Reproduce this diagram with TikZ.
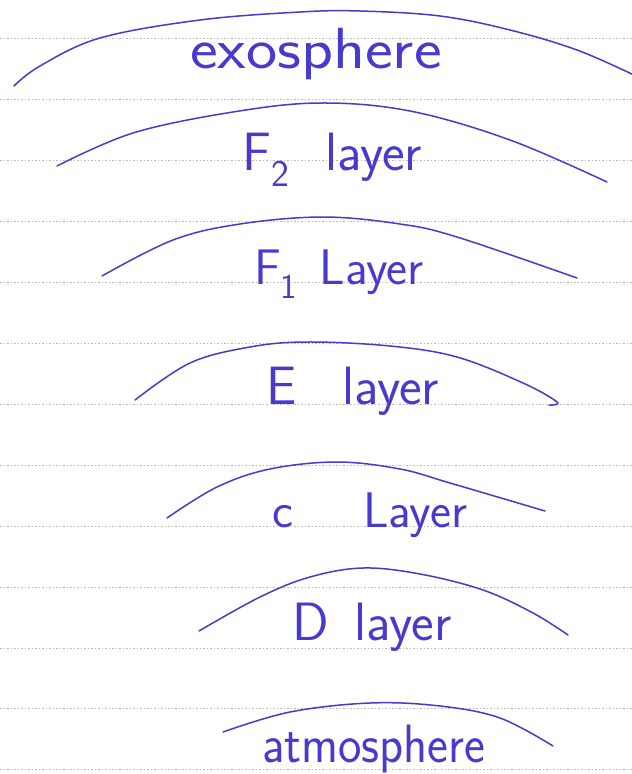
\documentclass[tikz,border=0pt]{standalone}
\usepackage{fontspec}
\begin{document}
\begin{tikzpicture}[x=1pt,y=-1pt,
  ink/.style={draw=inkblue,line width=1.5pt,line cap=round,line join=round},
  rule/.style={draw=rulegray,line width=0.7pt,dash pattern=on 1.5pt off 2pt},
  lbl/.style={text=inkblue,inner sep=0pt,anchor=base west},
  fs/.style={font=\sffamily\fontsize{#1}{#1}\selectfont}]
\definecolor{inkblue}{RGB}{72,58,205}
\definecolor{rulegray}{RGB}{185,185,185}
\useasboundingbox[fill=white] (0,0) rectangle (632,774);
% ruled lines
\foreach \yy in {38,99,160,221,282,343,404,465,526,587,648,708,769}
  \draw[rule] (0,\yy) -- (632,\yy);
% arcs
\draw[ink] plot[smooth,tension=0.6] coordinates {(14,86) (40,66) (100,38) (200,20) (300,12) (360,11) (440,16) (510,30) (577,50) (636,76)};
\draw[ink] plot[smooth,tension=0.6] coordinates {(57,166) (133,133) (233,112) (320,103) (410,111) (510,140) (607,182)};
\draw[ink] plot[smooth,tension=0.6] coordinates {(102,276) (173,240) (240,224) (323,217) (400,224) (457,237) (577,278)};
\draw[ink] plot[smooth,tension=0.6] coordinates {(135,400) (190,363) (250,347) (307,342) (390,346) (457,357) (523,383) (557,402) (549,405)};
\draw[ink] plot[smooth,tension=0.6] coordinates {(167,518) (217,487) (270,469) (337,462) (400,469) (450,483) (545,511)};
\draw[ink] plot[smooth,tension=0.6] coordinates {(199,631) (260,597) (310,577) (363,568) (420,574) (483,590) (533,613) (568,635)};
\draw[ink] plot[smooth,tension=0.6] coordinates {(223,732) (290,712) (370,703) (440,706) (500,718) (553,746)};
% labels
\node[lbl,fs=58] (exo) at (190,68) {\scalebox{1.14}[1]{exosphere}};
\node[lbl,fs=54] (f2) at (242,170) {F\textsubscript{2}\hspace{36pt}layer};
\node[lbl,fs=50] (f1) at (254,284) {F\textsubscript{1}\hspace{22pt}Layer};
\node[lbl,fs=54] (e) at (266,404) {E\hspace{46pt}layer};
\node[lbl,fs=50] (c) at (272,527) {c\hspace{70pt}Layer};
\node[lbl,fs=54] (d) at (292,640) {D\hspace{26pt}layer};
\node[lbl,fs=54] (atm) at (262,762) {\scalebox{0.92}[1]{atmosphere}};
\end{tikzpicture}
\end{document}
